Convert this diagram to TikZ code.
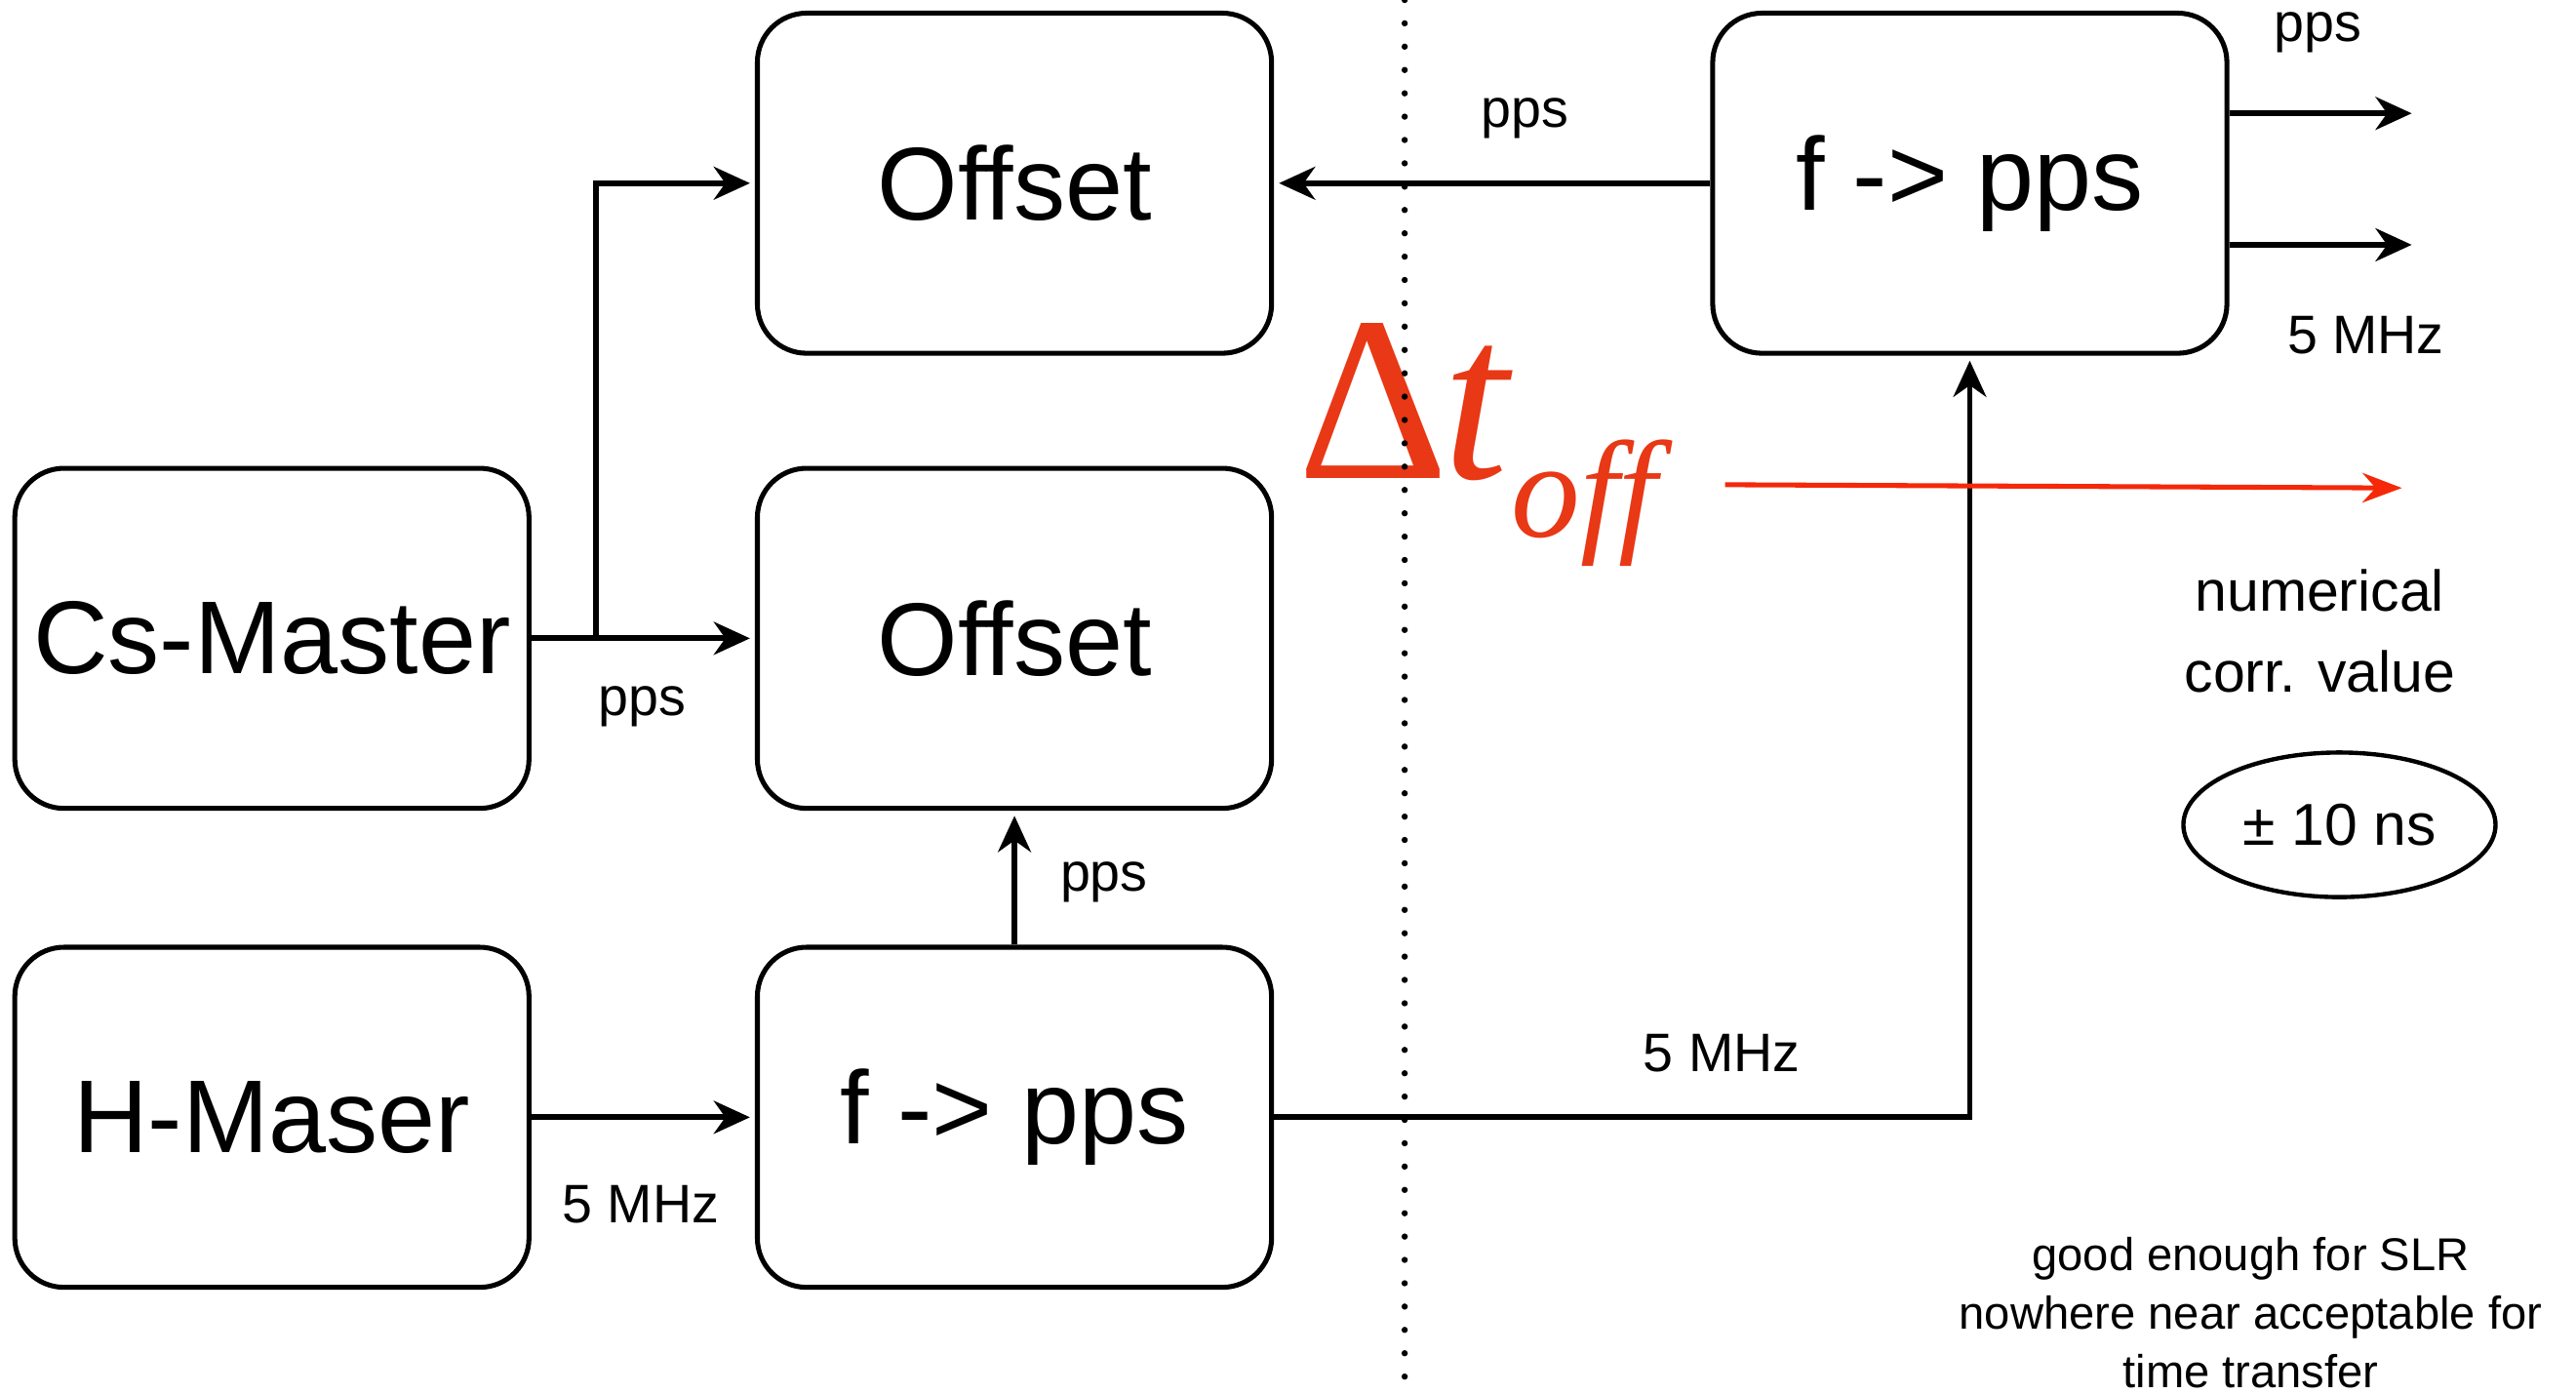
\documentclass[tikz,border=0pt]{standalone}
\usepackage{fontspec}
\setmainfont{Liberation Sans}
\newfontfamily\serifmath{Liberation Serif}
\usetikzlibrary{arrows.meta,shapes.geometric,calc}
\definecolor{deltared}{RGB}{232,56,22}
\definecolor{arrred}{RGB}{245,40,10}
\tikzset{
  blk/.style={draw, line width=3pt, rounded corners=30pt, minimum width=313pt, minimum height=207pt, inner sep=0pt, font=\fontsize{63}{70}\selectfont},
  arr/.style={line width=3.5pt, -{Stealth[length=22pt,width=20pt,inset=7pt]}, shorten >=3pt},
  lbl/.style={inner sep=0pt, font=\fontsize{33}{40}\selectfont},
}
\begin{document}
\begin{tikzpicture}[x=1pt,y=-1pt]
\useasboundingbox (0,0) rectangle (1568,848);
% boxes
\node[blk] (off1) at (617.5,111.5) {Offset};
\node[blk] (off2) at (617.5,388.5) {Offset};
\node[blk] (fpb) at (617.5,680) {f -> pps};
\node[blk] (cs) at (165.5,388.5) {Cs-Master};
\node[blk] (hm) at (165.5,680) {H-Maser};
\node[blk] (fpt) at (1199,111.5) {f -> pps};
% connectors
\coordinate (br) at (363,388.5);
\draw[arr] (cs.east) -- (off2.west);
\draw[arr] (br) |- (off1.west);
\draw[arr] (hm.east) -- (fpb.west);
\draw[arr] (fpb.north) -- (off2.south);
\draw[arr] (fpb.east) -| (fpt.south);
\draw[arr] (fpt.west) -- (off1.east);
\coordinate (o1) at (1471,69);
\coordinate (o2) at (1471,149);
\draw[arr] (fpt.east |- o1) -- (o1);
\draw[arr] (fpt.east |- o2) -- (o2);
\coordinate (r1) at (1050,295);
\coordinate (r2) at (1465,297);
\draw[arr, draw=arrred, fill=arrred, line width=3pt, -{Stealth[length=24pt,width=18pt,inset=8pt]}] (r1) -- (r2);
% labels
\node[lbl] (l1) at (391,430) {pps};
\node[lbl] (l2) at (390,733) {5 MHz};
\node[lbl] (l3) at (672,537) {pps};
\node[lbl] (l4) at (1048,641) {5 MHz};
\node[lbl] (l5) at (928,72) {pps};
\node[lbl] (l6) at (1411,20) {pps};
\node[lbl] (l7) at (1440,204) {5 MHz};
\node[inner sep=0pt, align=center, font=\fontsize{35}{49}\selectfont] (nv) at (1412,384) {numerical\\corr. value};
\node[draw, ellipse, line width=2.6pt, minimum width=190pt, minimum height=88pt, inner sep=0pt, font=\fontsize{36}{40}\selectfont] (pm) at (1424,502) {± 10 ns};
\node[inner sep=0pt, align=center, font=\fontsize{28}{35.5}\selectfont] (note) at (1370,799) {good enough for SLR\\nowhere near acceptable for\\time transfer};
% Delta t_off
\node[inner sep=0pt, anchor=base west, text=deltared, font=\serifmath\fontsize{143}{150}\selectfont] (dt) at (790,291) {Δ\kern-4pt\itshape t};
\node[inner sep=0pt, anchor=base west, text=deltared, font=\serifmath\itshape\fontsize{84}{90}\selectfont] (sub) at (920,327) {off};
% dotted divider
\coordinate (d1) at (855,0);
\coordinate (d2) at (855,848);
\draw[line width=3.8pt, line cap=round, dash pattern=on 0pt off 14.2pt] (d1) -- (d2);
\end{tikzpicture}
\end{document}
